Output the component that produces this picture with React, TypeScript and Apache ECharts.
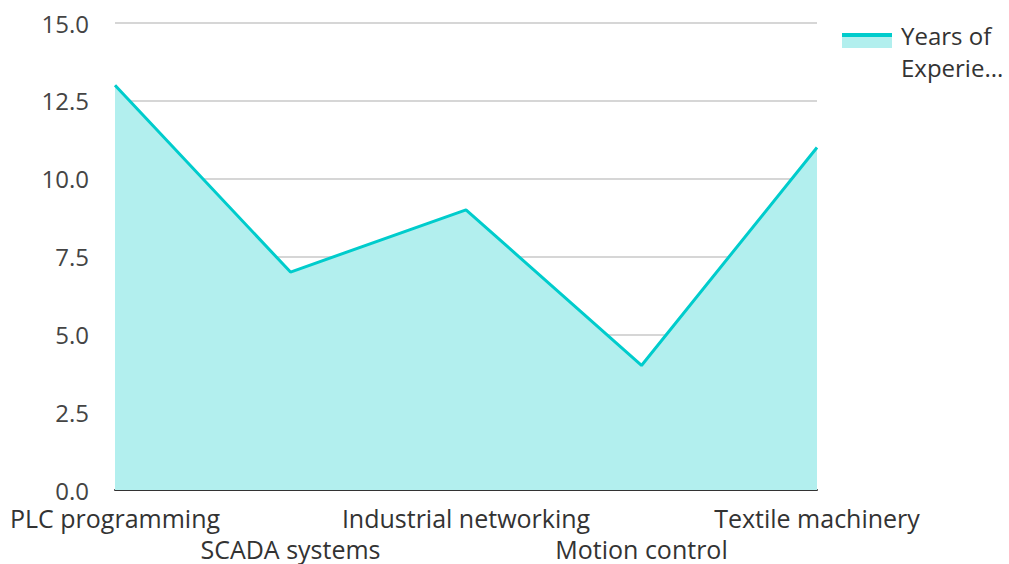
import React, { useEffect, useRef } from "react";
import * as echarts from "echarts";

const categories = ["PLC programming", "SCADA systems", "Industrial networking", "Motion control", "Textile machinery"];
const years = [13, 7, 9, 4, 11];
const seriesName = "Years of Experience";
const legendLabel = "Years of\nExperie...";

export default function App() {
  const ref = useRef<HTMLDivElement>(null);
  useEffect(() => {
    const chart = echarts.init(ref.current!, null, { renderer: "svg" });
    const font = "'Open Sans', 'Noto Sans', sans-serif";
    chart.setOption({
      animation: false,
      textStyle: { fontFamily: font },
      grid: { left: 115, right: 192, top: 23, bottom: 74, containLabel: false, outerBoundsMode: "none" },
      legend: { show: false },
      graphic: [
        { type: "rect", shape: { x: 842, y: 33, width: 50, height: 15 }, style: { fill: "#b2efee" }, z: 100 },
        { type: "rect", shape: { x: 842, y: 33, width: 50, height: 4 }, style: { fill: "#00cccc" }, z: 101 },
        {
          type: "text",
          x: 901,
          y: 19,
          z: 101,
          style: { text: legendLabel, fontSize: 24, lineHeight: 32, fill: "#333", fontFamily: font },
        },
      ],
      xAxis: {
        type: "category",
        data: categories,
        boundaryGap: false,
        axisLine: { lineStyle: { color: "#333", width: 2 } },
        axisTick: { show: false },
        axisLabel: {
          interval: 0,
          fontSize: 25,
          color: "#333",
          lineHeight: 31,
          margin: 12,
          formatter: (v: string, i: number) => (i % 2 ? "\n" + v : v),
        },
      },
      yAxis: {
        type: "value",
        min: 0,
        max: 15,
        interval: 2.5,
        axisLine: { show: false },
        axisTick: { show: false },
        splitLine: { lineStyle: { color: "#c8c8c8", width: 1.5 } },
        axisLabel: {
          fontSize: 24,
          lineHeight: 20,
          color: "#444",
          margin: 26,
          formatter: (v: number) => v.toFixed(1),
        },
      },
      series: [
        {
          name: seriesName,
          type: "line",
          data: years,
          symbol: "none",
          lineStyle: { color: "#00cccc", width: 3 },
          itemStyle: { color: "#00cccc" },
          areaStyle: { color: "#b2efee", opacity: 1 },
        },
      ],
    });
    return () => chart.dispose();
  }, []);
  return <div ref={ref} style={{ width: 1009, height: 564, position: "absolute", left: 0, top: 0 }} />;
}
